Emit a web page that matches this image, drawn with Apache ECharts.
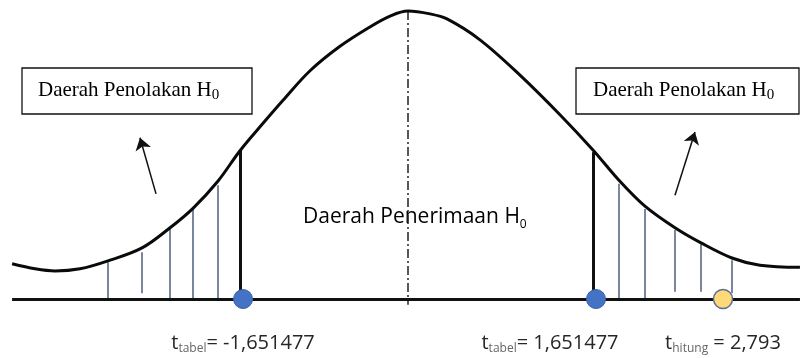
<!DOCTYPE html>
<html>
<head>
<meta charset="utf-8">
<script src="https://cdn.jsdelivr.net/npm/echarts@6/dist/echarts.min.js"></script>
<style>
  html, body { margin: 0; padding: 0; background: #fff; }
  #chart { width: 803px; height: 358px; }
</style>
</head>
<body>
<div id="chart"></div>
<script>
// curve of the t distribution (schematic), x in t units, y = density
const curveX = [-3.504, -3.301, -3.124, -2.903, -2.655, -2.354, -2.106, -1.903, -1.681, -1.487, -1.283, -1.106, -0.867, -0.602, -0.336, -0.159, 0, 0.195, 0.345, 0.637, 0.991, 1.345, 1.637, 1.867, 2.097, 2.363, 2.593, 2.867, 3.115, 3.469];
const curveY = [0.049, 0.042, 0.039, 0.042, 0.053, 0.071, 0.099, 0.126, 0.164, 0.206, 0.244, 0.276, 0.317, 0.351, 0.378, 0.393, 0.400, 0.396, 0.389, 0.360, 0.311, 0.256, 0.207, 0.165, 0.129, 0.099, 0.078, 0.057, 0.047, 0.044];

// rejection area hatching
const leftHatchX = [-2.655, -2.354, -2.106, -1.903, -1.681];
const leftHatchTop = [0.051, 0.065, 0.098, 0.125, 0.158];
const leftHatchBottom = [0, 0.008, 0, 0, 0];
const rightHatchX = [1.867, 2.097, 2.363, 2.593, 2.867];
const rightHatchTop = [0.160, 0.125, 0.096, 0.076, 0.054];
const rightHatchBottom = [0, 0, 0.010, 0.010, 0.008];

// critical lines
const critX = [-1.487, 1.637];
const critTop = [0.207, 0.204];

// points on the axis
const tabelX = [-1.460, 1.664];
const tabelLabels = ['-1,651477', '1,651477'];
const hitungX = [2.788];
const hitungLabels = ['2,793'];

const baseX = [-3.504, 3.469];
const centerLine = [0.400, -0.008];

// arrows [tailX, tailY, headX, headY]
const arrows = [[-2.230, 0.146, -2.372, 0.224], [2.363, 0.144, 2.540, 0.232]];

const sans = 'Open Sans';
const serif = 'Liberation Serif';
const labelRich = {
  m: { fontFamily: sans, fontSize: 20, color: '#262626', lineHeight: 24 },
  s: { fontFamily: sans, fontSize: 12, color: '#666', lineHeight: 16, verticalAlign: 'bottom' }
};
const boxRich = {
  a: { fontFamily: serif, fontSize: 21, color: '#1a1a1a', lineHeight: 24 },
  b: { fontFamily: serif, fontSize: 15, color: '#1a1a1a', lineHeight: 20, verticalAlign: 'bottom' }
};

const chart = echarts.init(document.getElementById('chart'));

const seg = (xs, bottoms, tops) => xs.map((x, i) => ({ coords: [[x, bottoms[i]], [x, tops[i]]] }));

const option = {
  animation: false,
  grid: { left: 0, right: 0, top: 0, bottom: 0 },
  xAxis: { type: 'value', min: -3.611, max: 3.496, show: false },
  yAxis: { type: 'value', min: -0.0819, max: 0.4153, show: false },
  series: [
    {
      type: 'lines',
      coordinateSystem: 'cartesian2d',
      lineStyle: { color: '#4d5f7c', width: 1.5, opacity: 1 },
      data: seg(leftHatchX, leftHatchBottom, leftHatchTop).concat(seg(rightHatchX, rightHatchBottom, rightHatchTop)),
      z: 2
    },
    {
      type: 'lines',
      coordinateSystem: 'cartesian2d',
      lineStyle: { color: '#111', width: 3, opacity: 1 },
      data: seg(critX, [0, 0], critTop).concat([{ coords: [[baseX[0], 0], [baseX[1], 0]] }]),
      z: 3
    },
    {
      type: 'lines',
      coordinateSystem: 'cartesian2d',
      lineStyle: { color: '#222', width: 1.5, opacity: 1, type: [9, 3, 2, 3] },
      data: [{ coords: [[0, centerLine[0]], [0, centerLine[1]]] }],
      z: 2
    },
    {
      type: 'lines',
      coordinateSystem: 'cartesian2d',
      symbol: ['none', 'arrow'],
      symbolSize: 12,
      lineStyle: { color: '#111', width: 1.5, opacity: 1 },
      data: arrows.map(a => ({ coords: [[a[0], a[1]], [a[2], a[3]]] })),
      z: 3
    },
    {
      type: 'line',
      data: curveX.map((x, i) => [x, curveY[i]]),
      smooth: 0.35,
      showSymbol: false,
      lineStyle: { color: '#0a0a0a', width: 3 },
      z: 4
    },
    {
      type: 'scatter',
      data: tabelX.map((x, i) => ({
        value: [x, 0],
        label: {
          show: true,
          position: 'inside',
          offset: [i === 0 ? 0 : -46, 44],
          formatter: '{m|t}{s|tabel}{m|= ' + tabelLabels[i] + '}',
          rich: labelRich
        }
      })),
      symbolSize: 19,
      itemStyle: { color: '#4472c4', borderColor: '#3a62aa', borderWidth: 1, opacity: 1 },
      z: 5
    },
    {
      type: 'scatter',
      data: hitungX.map((x, i) => ({
        value: [x, 0],
        label: {
          show: true,
          position: 'inside',
          offset: [0, 44],
          formatter: '{m|t}{s|hitung}{m| = ' + hitungLabels[i] + '}',
          rich: labelRich
        }
      })),
      symbolSize: 19,
      itemStyle: { color: '#ffd978', borderColor: '#5a6e95', borderWidth: 1.5, opacity: 1 },
      z: 5
    }
  ],
  graphic: [
    {
      type: 'rect', shape: { x: 22, y: 68, width: 230, height: 46 },
      style: { fill: '#fff', stroke: '#111', lineWidth: 1.3 }
    },
    {
      type: 'rect', shape: { x: 576, y: 68, width: 223, height: 46 },
      style: { fill: '#fff', stroke: '#111', lineWidth: 1.3 }
    },
    {
      type: 'text', left: 38, top: 80,
      style: { text: '{a|Daerah Penolakan H}{b|0}', rich: boxRich }
    },
    {
      type: 'text', left: 593, top: 80,
      style: { text: '{a|Daerah Penolakan H}{b|0}', rich: boxRich }
    },
    {
      type: 'text', left: 303, top: 207,
      style: {
        text: '{a|Daerah Penerimaan H}{b|0}',
        rich: {
          a: { fontFamily: sans, fontSize: 21, color: '#262626', lineHeight: 26 },
          b: { fontFamily: sans, fontSize: 12, color: '#666', lineHeight: 17, verticalAlign: 'bottom' }
        }
      }
    }
  ]
};

chart.setOption(option);
</script>
</body>
</html>
